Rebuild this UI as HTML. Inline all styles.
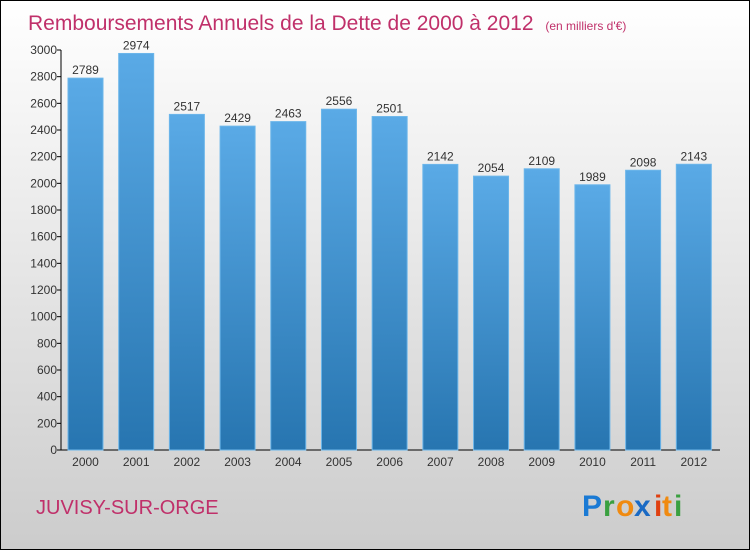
<!DOCTYPE html>
<html><head><meta charset="utf-8"><style>
body{margin:0;width:750px;height:550px;overflow:hidden}
svg{display:block}
text{font-family:"Liberation Sans",sans-serif}
</style></head><body>
<svg width="750" height="550" viewBox="0 0 750 550">
<defs>
<linearGradient id="bg" x1="0" y1="0" x2="0" y2="1"><stop offset="0" stop-color="#ffffff"/><stop offset="1" stop-color="#cccccc"/></linearGradient>
<linearGradient id="bar" x1="0" y1="0" x2="0" y2="1"><stop offset="0" stop-color="#5aaae6"/><stop offset="1" stop-color="#2775b0"/></linearGradient>
</defs>
<rect x="0.5" y="0.5" width="749" height="549" fill="url(#bg)" stroke="#000"/>
<text x="28" y="30" font-size="21" fill="#c0306a">Remboursements Annuels de la Dette de 2000 à 2012 <tspan font-size="12" dx="6">(en milliers d'€)</tspan></text>
<g id="axes"></g>
<g id="bars"></g>
<text x="36" y="514" font-size="20" fill="#c0306a">JUVISY-SUR-ORGE</text>
<g font-size="30" font-weight="bold" font-family="Liberation Sans">
<text x="582" y="516" fill="#1a7ad4">P</text><text x="603" y="516" fill="#3aa040">r</text><text x="616" y="516" fill="#f08a10">o</text><text x="634" y="516" fill="#1a6ac4">x</text><text x="654" y="516" fill="#e04010">i</text><text x="662" y="516" fill="#f08a10">t</text><text x="674" y="516" fill="#3aa040">i</text>
</g>
</svg>
<script>
const categories=["2000","2001","2002","2003","2004","2005","2006","2007","2008","2009","2010","2011","2012"];
const values=[2789,2974,2517,2429,2463,2556,2501,2142,2054,2109,1989,2098,2143];
const ticks=[0,200,400,600,800,1000,1200,1400,1600,1800,2000,2200,2400,2600,2800,3000];
const NS="http://www.w3.org/2000/svg";
const x0=61,x1=720,y0=450,y1=50,max=3000;
const band=(x1-x0)/categories.length;
const y=v=>y0-(v/max)*(y0-y1);
const xb=i=>x0+i*band;
function mk(t,a,p){const e=document.createElementNS(NS,t);for(const k in a)e.setAttribute(k,a[k]);p.appendChild(e);return e;}
const ax=document.getElementById('axes'),bg=document.getElementById('bars');
let l=mk('line',{x1:x0,y1:y1,x2:x0,y2:y0,stroke:'#000'},ax);


l=mk('line',{x1:x0,y1:y0,x2:x1,y2:y0,stroke:'#000'},ax);


ticks.forEach(t=>{
 const tk=mk('line',{x1:x0-4,y1:y(t),x2:x0,y2:y(t),stroke:'#000'},ax);
 
 
 const tx=mk('text',{x:x0-4,y:y(t)+4,'text-anchor':'end','font-size':12,fill:'#333'},ax);
 tx.textContent=t;
 
 
});
categories.forEach((c,i)=>{
 const bx=xb(i)+7,w=35,v=values[i];
 const r=mk('rect',{x:bx,y:y(v),width:w,height:y0-y(v),fill:'url(#bar)',stroke:'#6cb6ea','stroke-width':1},bg);
 
 
 const vt=mk('text',{x:bx+w/2,y:y(v)-4,'text-anchor':'middle','font-size':12,fill:'#333'},bg);
 vt.textContent=v;
 
 
 const ct=mk('text',{x:bx+w/2,y:y0+16,'text-anchor':'middle','font-size':12,fill:'#333'},bg);
 ct.textContent=c;
 
 
});
</script>
</body></html>
